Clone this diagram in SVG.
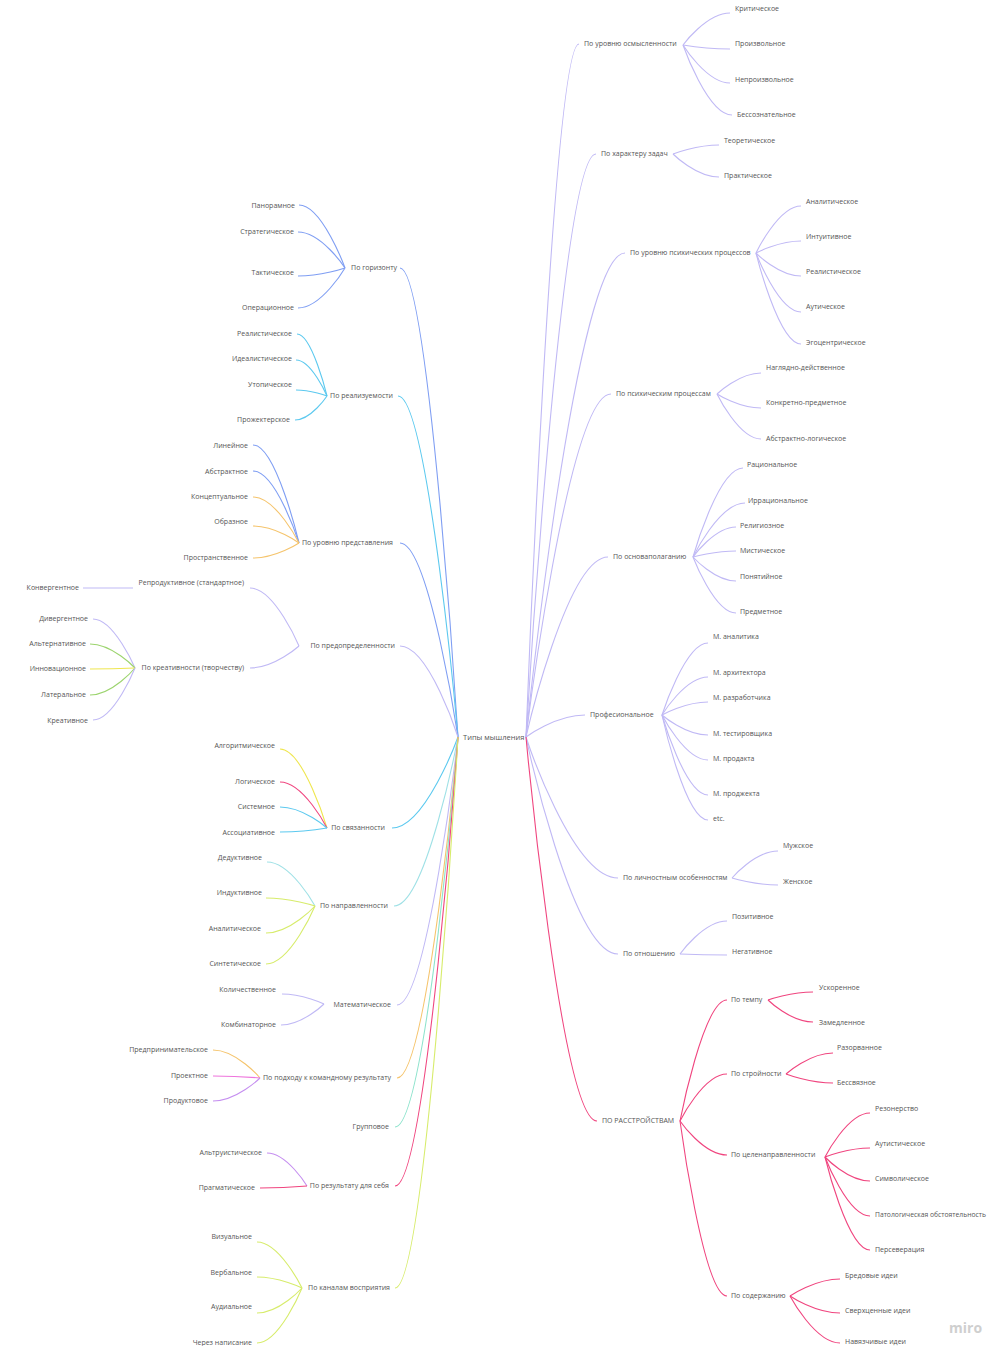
<svg xmlns="http://www.w3.org/2000/svg" width="988" height="1346" viewBox="0 0 988 1346">
<style>
text{font-family:"Open Sans","Liberation Sans",sans-serif;font-size:7px;fill:#555}
.e{text-anchor:end}
.root{font-size:7.5px}
#connectors path{fill:none;stroke-width:1.1}
.blue{stroke:#7f9ef3}.cyan{stroke:#5cc9ef}.lav{stroke:#c0b9f5}.orange{stroke:#f5c46c}.green{stroke:#9cd46e}.yellow{stroke:#efe64f}.yg{stroke:#d7ec6b}.lcyan{stroke:#9fe1e6}.teal{stroke:#8de3cc}.pink{stroke:#f0457f}.magenta{stroke:#ee74dc}.purple{stroke:#c58ef0}
</style>
<rect width="988" height="1346" fill="#fff"/>
<g id="connectors">
<path class="blue" d="M458 737C458 737 429 268 400 268"/>
<path class="cyan" d="M458 737C458 737 428 396 398 396"/>
<path class="blue" d="M458 737C458 737 429 543 400 543"/>
<path class="lav" d="M458 737C458 737 429 646 400 646"/>
<path class="cyan" d="M458 737C458 737 425 828 392 828"/>
<path class="lcyan" d="M458 737C458 737 426 906 394 906"/>
<path class="lav" d="M458 737C458 737 427.5 1005 397 1005"/>
<path class="orange" d="M458 737C458 737 427.5 1078 397 1078"/>
<path class="teal" d="M458 737C458 737 426.5 1127 395 1127"/>
<path class="pink" d="M458 737C458 737 426.5 1186 395 1186"/>
<path class="yg" d="M458 737C458 737 426.5 1288 395 1288"/>
<path class="lav" d="M526 737C526 737 552.5 44 579 44"/>
<path class="lav" d="M526 737C526 737 561 154 596 154"/>
<path class="lav" d="M526 737C526 737 575.5 253 625 253"/>
<path class="lav" d="M526 737C526 737 568.5 394 611 394"/>
<path class="lav" d="M526 737C526 737 567 557 608 557"/>
<path class="lav" d="M526 737C526 737 555.5 715 585 715"/>
<path class="lav" d="M526 737C526 737 572 878 618 878"/>
<path class="lav" d="M526 737C526 737 572 954 618 954"/>
<path class="pink" d="M526 737C526 737 561.5 1121 597 1121"/>
<path class="blue" d="M345 268C345 268 322 205 299 205"/>
<path class="blue" d="M345 268C345 268 321.5 232 298 232"/>
<path class="blue" d="M345 268C345 268 321.5 276 298 276"/>
<path class="blue" d="M345 268C345 268 321.5 308 298 308"/>
<path class="cyan" d="M327 396C327 396 312 334 297 334"/>
<path class="cyan" d="M327 396C327 396 311.5 360 296 360"/>
<path class="cyan" d="M327 396C327 396 311.5 390 296 390"/>
<path class="cyan" d="M327 396C327 396 311 420 295 420"/>
<path class="blue" d="M299 543C299 543 276 445 253 445"/>
<path class="blue" d="M299 543C299 543 276 471 253 471"/>
<path class="orange" d="M299 543C299 543 276 497 253 497"/>
<path class="orange" d="M299 543C299 543 276 526 253 526"/>
<path class="orange" d="M299 543C299 543 276 558 253 558"/>
<path class="lav" d="M299 646C299 646 274.5 588 250 588"/>
<path class="lav" d="M299 646C299 646 274.5 668 250 668"/>
<path class="lav" d="M133 588L83 588"/>
<path class="lav" d="M135 668C135 668 114 619 93 619"/>
<path class="green" d="M135 668C135 668 112.5 644 90 644"/>
<path class="yellow" d="M135 668C135 668 112.5 669 90 669"/>
<path class="green" d="M135 668C135 668 112.5 695 90 695"/>
<path class="lav" d="M135 668C135 668 114 720 93 720"/>
<path class="yellow" d="M327 828C327 828 303.5 749 280 749"/>
<path class="pink" d="M327 828C327 828 303.5 782 280 782"/>
<path class="cyan" d="M327 828C327 828 303.5 807 280 807"/>
<path class="cyan" d="M327 828C327 828 303.5 832 280 832"/>
<path class="lcyan" d="M315 906C315 906 291 862 267 862"/>
<path class="yg" d="M315 906C315 906 290.5 898 266 898"/>
<path class="yg" d="M315 906C315 906 290.5 933 266 933"/>
<path class="yg" d="M315 906C315 906 290.5 964 266 964"/>
<path class="lav" d="M324 1004C324 1004 303 994 282 994"/>
<path class="lav" d="M324 1004C324 1004 302.5 1025 281 1025"/>
<path class="orange" d="M260 1078C260 1078 236.5 1050 213 1050"/>
<path class="magenta" d="M260 1078C260 1078 236.5 1076 213 1076"/>
<path class="purple" d="M260 1078C260 1078 236.5 1101 213 1101"/>
<path class="purple" d="M307 1186C307 1186 287 1153 267 1153"/>
<path class="pink" d="M307 1186C307 1186 283.5 1188 260 1188"/>
<path class="yg" d="M302 1288C302 1288 279.5 1242 257 1242"/>
<path class="yg" d="M302 1288C302 1288 279.5 1277 257 1277"/>
<path class="yg" d="M302 1288C302 1288 279.5 1313 257 1313"/>
<path class="yg" d="M302 1288C302 1288 279.5 1343 257 1343"/>
<path class="lav" d="M683 45C683 45 706.5 13 730 13"/>
<path class="lav" d="M683 45C683 45 706.5 49 730 49"/>
<path class="lav" d="M683 45C683 45 706.5 83 730 83"/>
<path class="lav" d="M683 45C683 45 707.5 115 732 115"/>
<path class="lav" d="M673 154C673 154 696 145 719 145"/>
<path class="lav" d="M673 154C673 154 696 177 719 177"/>
<path class="lav" d="M756 253C756 253 778.5 206 801 206"/>
<path class="lav" d="M756 253C756 253 778.5 241 801 241"/>
<path class="lav" d="M756 253C756 253 778.5 276 801 276"/>
<path class="lav" d="M756 253C756 253 778.5 312 801 312"/>
<path class="lav" d="M756 253C756 253 778.5 344 801 344"/>
<path class="lav" d="M717 394C717 394 739 373 761 373"/>
<path class="lav" d="M717 394C717 394 739 408 761 408"/>
<path class="lav" d="M717 394C717 394 739 439 761 439"/>
<path class="lav" d="M693 557C693 557 718 468 743 468"/>
<path class="lav" d="M693 557C693 557 719 503 745 503"/>
<path class="lav" d="M693 557C693 557 714.5 527 736 527"/>
<path class="lav" d="M693 557C693 557 714.5 551 736 551"/>
<path class="lav" d="M693 557C693 557 714.5 581 736 581"/>
<path class="lav" d="M693 557C693 557 714.5 613 736 613"/>
<path class="lav" d="M662 715C662 715 685 643 708 643"/>
<path class="lav" d="M662 715C662 715 685 677 708 677"/>
<path class="lav" d="M662 715C662 715 685 702 708 702"/>
<path class="lav" d="M662 715C662 715 685 735 708 735"/>
<path class="lav" d="M662 715C662 715 685 760 708 760"/>
<path class="lav" d="M662 715C662 715 685 795 708 795"/>
<path class="lav" d="M662 715C662 715 685 820 708 820"/>
<path class="lav" d="M732 878C732 878 755 851 778 851"/>
<path class="lav" d="M732 878C732 878 755 885 778 885"/>
<path class="lav" d="M680 954C680 954 703.5 921 727 921"/>
<path class="lav" d="M680 954C680 954 703.5 955 727 955"/>
<path class="pink" d="M680 1121C680 1121 703.5 1000 727 1000"/>
<path class="pink" d="M680 1121C680 1121 703.5 1074 727 1074"/>
<path class="pink" d="M680 1121C680 1121 703.5 1155 727 1155"/>
<path class="pink" d="M680 1121C680 1121 703.5 1296 727 1296"/>
<path class="pink" d="M768 1000C768 1000 790.5 992 813 992"/>
<path class="pink" d="M768 1000C768 1000 790.5 1022 813 1022"/>
<path class="pink" d="M786 1074C786 1074 809.5 1053 833 1053"/>
<path class="pink" d="M786 1074C786 1074 809.5 1083 833 1083"/>
<path class="pink" d="M825 1157C825 1157 847.5 1113 870 1113"/>
<path class="pink" d="M825 1157C825 1157 847.5 1148 870 1148"/>
<path class="pink" d="M825 1157C825 1157 847.5 1181 870 1181"/>
<path class="pink" d="M825 1157C825 1157 847.5 1216 870 1216"/>
<path class="pink" d="M825 1157C825 1157 847.5 1250 870 1250"/>
<path class="pink" d="M790 1296C790 1296 815 1279 840 1279"/>
<path class="pink" d="M790 1296C790 1296 815 1313 840 1313"/>
<path class="pink" d="M790 1296C790 1296 815 1343 840 1343"/>
</g>
<g id="root"><text class="root" x="463" y="739.5">Типы мышления</text></g>
<g id="n-gor"><text class="e" x="397" y="270.4">По горизонту</text></g>
<g id="n-gor1"><text class="e" x="295" y="208.4">Панорамное</text></g>
<g id="n-gor2"><text class="e" x="294" y="234.4">Стратегическое</text></g>
<g id="n-gor3"><text class="e" x="294" y="275.4">Тактическое</text></g>
<g id="n-gor4"><text class="e" x="294" y="310.4">Операционное</text></g>
<g id="n-real"><text class="e" x="393" y="398.4">По реализуемости</text></g>
<g id="n-real1"><text class="e" x="292" y="336.4">Реалистическое</text></g>
<g id="n-real2"><text class="e" x="292" y="361.4">Идеалистическое</text></g>
<g id="n-real3"><text class="e" x="292" y="387.4">Утопическое</text></g>
<g id="n-real4"><text class="e" x="290" y="422.4">Прожектерское</text></g>
<g id="n-pred"><text class="e" x="393" y="545.4">По уровню представления</text></g>
<g id="n-pred1"><text class="e" x="248" y="448.4">Линейное</text></g>
<g id="n-pred2"><text class="e" x="248" y="474.4">Абстрактное</text></g>
<g id="n-pred3"><text class="e" x="248" y="499.4">Концептуальное</text></g>
<g id="n-pred4"><text class="e" x="248" y="524.4">Образное</text></g>
<g id="n-pred5"><text class="e" x="248" y="560.4">Пространственное</text></g>
<g id="n-predo"><text class="e" x="395" y="648.4">По предопределенности</text></g>
<g id="n-repr"><text class="e" x="244" y="585.4">Репродуктивное (стандартное)</text></g>
<g id="n-conv"><text class="e" x="79" y="590.4">Конвергентное</text></g>
<g id="n-kreat"><text class="e" x="244" y="670.4">По креативности (творчеству)</text></g>
<g id="n-kreat1"><text class="e" x="88" y="621.4">Дивергентное</text></g>
<g id="n-kreat2"><text class="e" x="86" y="646.4">Альтернативное</text></g>
<g id="n-kreat3"><text class="e" x="86" y="671.4">Инновационное</text></g>
<g id="n-kreat4"><text class="e" x="86" y="697.4">Латеральное</text></g>
<g id="n-kreat5"><text class="e" x="88" y="723.4">Креативное</text></g>
<g id="n-svyaz"><text class="e" x="385" y="830.4">По связанности</text></g>
<g id="n-svyaz1"><text class="e" x="275" y="748.4">Алгоритмическое</text></g>
<g id="n-svyaz2"><text class="e" x="275" y="784.4">Логическое</text></g>
<g id="n-svyaz3"><text class="e" x="275" y="809.4">Системное</text></g>
<g id="n-svyaz4"><text class="e" x="275" y="835.4">Ассоциативное</text></g>
<g id="n-napr"><text class="e" x="388" y="908.4">По направленности</text></g>
<g id="n-napr1"><text class="e" x="262" y="860.4">Дедуктивное</text></g>
<g id="n-napr2"><text class="e" x="262" y="895.4">Индуктивное</text></g>
<g id="n-napr3"><text class="e" x="261" y="931.4">Аналитическое</text></g>
<g id="n-napr4"><text class="e" x="261" y="966.4">Синтетическое</text></g>
<g id="n-mat"><text class="e" x="391" y="1007.4">Математическое</text></g>
<g id="n-mat1"><text class="e" x="276" y="992.4">Количественное</text></g>
<g id="n-mat2"><text class="e" x="276" y="1027.4">Комбинаторное</text></g>
<g id="n-kom"><text class="e" x="391" y="1080.4">По подходу к командному результату</text></g>
<g id="n-kom1"><text class="e" x="208" y="1052.4">Предпринимательское</text></g>
<g id="n-kom2"><text class="e" x="208" y="1078.4">Проектное</text></g>
<g id="n-kom3"><text class="e" x="208" y="1103.4">Продуктовое</text></g>
<g id="n-grup"><text class="e" x="389" y="1129.4">Групповое</text></g>
<g id="n-res"><text class="e" x="389" y="1188.4">По результату для себя</text></g>
<g id="n-res1"><text class="e" x="262" y="1155.4">Альтруистическое</text></g>
<g id="n-res2"><text class="e" x="255" y="1190.4">Прагматическое</text></g>
<g id="n-kan"><text class="e" x="390" y="1290.4">По каналам восприятия</text></g>
<g id="n-kan1"><text class="e" x="252" y="1239.4">Визуальное</text></g>
<g id="n-kan2"><text class="e" x="252" y="1275.4">Вербальное</text></g>
<g id="n-kan3"><text class="e" x="252" y="1309.4">Аудиальное</text></g>
<g id="n-kan4"><text class="e" x="252" y="1345">Через написание</text></g>
<g id="n-osm"><text x="584" y="46.4">По уровню осмысленности</text></g>
<g id="n-osm1"><text x="735" y="11.4">Критическое</text></g>
<g id="n-osm2"><text x="735" y="46.4">Произвольное</text></g>
<g id="n-osm3"><text x="735" y="82.4">Непроизвольное</text></g>
<g id="n-osm4"><text x="737" y="117.4">Бессознательное</text></g>
<g id="n-har"><text x="601" y="156.4">По характеру задач</text></g>
<g id="n-har1"><text x="724" y="143.4">Теоретическое</text></g>
<g id="n-har2"><text x="724" y="178.4">Практическое</text></g>
<g id="n-psy"><text x="630" y="255.4">По уровню психических процессов</text></g>
<g id="n-psy1"><text x="806" y="204.4">Аналитическое</text></g>
<g id="n-psy2"><text x="806" y="239.4">Интуитивное</text></g>
<g id="n-psy3"><text x="806" y="274.4">Реалистическое</text></g>
<g id="n-psy4"><text x="806" y="309.4">Аутическое</text></g>
<g id="n-psy5"><text x="806" y="345.4">Эгоцентрическое</text></g>
<g id="n-pp"><text x="616" y="396.4">По психическим процессам</text></g>
<g id="n-pp1"><text x="766" y="370.4">Наглядно-действенное</text></g>
<g id="n-pp2"><text x="766" y="405.4">Конкретно-предметное</text></g>
<g id="n-pp3"><text x="766" y="441.4">Абстрактно-логическое</text></g>
<g id="n-osn"><text x="613" y="559.4">По основаполаганию</text></g>
<g id="n-osn1"><text x="747" y="467.4">Рациональное</text></g>
<g id="n-osn2"><text x="748" y="503.4">Иррациональное</text></g>
<g id="n-osn3"><text x="740" y="528.4">Религиозное</text></g>
<g id="n-osn4"><text x="740" y="553.4">Мистическое</text></g>
<g id="n-osn5"><text x="740" y="579.4">Понятийное</text></g>
<g id="n-osn6"><text x="740" y="614.4">Предметное</text></g>
<g id="n-prof"><text x="590" y="717.4">Професиональное</text></g>
<g id="n-prof1"><text x="713" y="639.4">М. аналитика</text></g>
<g id="n-prof2"><text x="713" y="675.4">М. архитектора</text></g>
<g id="n-prof3"><text x="713" y="700.4">М. разработчика</text></g>
<g id="n-prof4"><text x="713" y="736.4">М. тестировщика</text></g>
<g id="n-prof5"><text x="713" y="761.4">М. продакта</text></g>
<g id="n-prof6"><text x="713" y="796.4">М. проджекта</text></g>
<g id="n-prof7"><text x="713" y="821.4">etc.</text></g>
<g id="n-lich"><text x="623" y="880.4">По личностным особенностям</text></g>
<g id="n-lich1"><text x="783" y="848.4">Мужское</text></g>
<g id="n-lich2"><text x="783" y="884.4">Женское</text></g>
<g id="n-otn"><text x="623" y="956.4">По отношению</text></g>
<g id="n-otn1"><text x="732" y="919.4">Позитивное</text></g>
<g id="n-otn2"><text x="732" y="954.4">Негативное</text></g>
<g id="n-ras"><text x="602" y="1123.4">ПО РАССТРОЙСТВАМ</text></g>
<g id="n-temp"><text x="731" y="1002.4">По темпу</text></g>
<g id="n-temp1"><text x="819" y="990.4">Ускоренное</text></g>
<g id="n-temp2"><text x="819" y="1025.4">Замедленное</text></g>
<g id="n-str"><text x="731" y="1076.4">По стройности</text></g>
<g id="n-str1"><text x="837" y="1050.4">Разорванное</text></g>
<g id="n-str2"><text x="837" y="1085.4">Бессвязное</text></g>
<g id="n-cel"><text x="731" y="1157.4">По целенаправленности</text></g>
<g id="n-cel1"><text x="875" y="1111.4">Резонерство</text></g>
<g id="n-cel2"><text x="875" y="1146.4">Аутистическое</text></g>
<g id="n-cel3"><text x="875" y="1181.4">Символическое</text></g>
<g id="n-cel4"><text x="875" y="1217.4" textLength="111" lengthAdjust="spacingAndGlyphs">Патологическая обстоятельность</text></g>
<g id="n-cel5"><text x="875" y="1252.4">Персеверация</text></g>
<g id="n-sod"><text x="731" y="1298.4">По содержанию</text></g>
<g id="n-sod1"><text x="845" y="1278.4">Бредовые идеи</text></g>
<g id="n-sod2"><text x="845" y="1313.4">Сверхценные идеи</text></g>
<g id="n-sod3"><text x="845" y="1343.5">Навязчивые идеи</text></g>
<g id="logo"><text x="949" y="1333" style="font-size:14px;font-weight:bold;fill:#cfcfcf">miro</text></g>
</svg>
